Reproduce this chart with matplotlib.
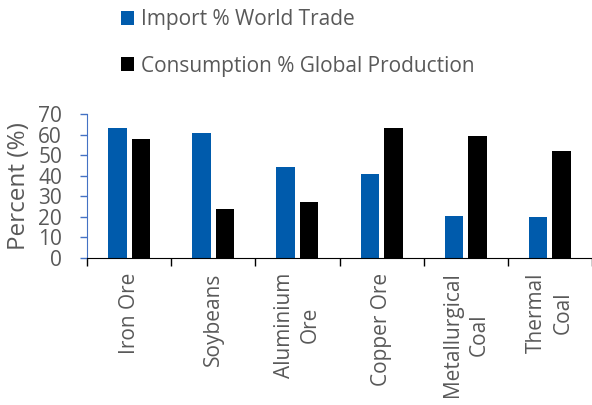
import matplotlib
matplotlib.use("Agg")
import matplotlib.pyplot as plt
import numpy as np

categories = ["Iron Ore", "Soybeans", "Aluminium\nOre", "Copper Ore", "Metallurgical\nCoal", "Thermal\nCoal"]
import_share = [63, 61, 44, 41, 20.5, 20]
consumption_share = [58, 24, 27, 63, 59.5, 52]
series_names = ["Import % World Trade", "Consumption % Global Production"]
yticks = [0, 10, 20, 30, 40, 50, 60, 70]

plt.rcParams['font.family'] = ['Open Sans', 'DejaVu Sans']
text_gray = "#595959"
blue = "#005BAC"

fig = plt.figure(figsize=(5.92, 4.05), dpi=100)
ax = fig.add_axes([0.147, 0.363, 0.853, 0.3555])

x = np.arange(len(categories))
w = 0.22
off = 0.14
ax.bar(x - off, import_share, w, color=blue, label=series_names[0])
ax.bar(x + off, consumption_share, w, color="black", label=series_names[1])

ax.set_xlim(-0.5, len(categories) - 0.5)
ax.set_ylim(0, 70)
ax.set_yticks(yticks)
ax.tick_params(axis='y', colors="#4472C4", labelcolor=text_gray, labelsize=15, length=5, width=1, pad=13)
ax.spines['left'].set_color("#4472C4")
ax.spines['top'].set_visible(False)
ax.spines['right'].set_visible(False)
ax.spines['bottom'].set_color("black")

ax.set_xticks(np.arange(len(categories) + 1) - 0.5)
ax.set_xticklabels([])
ax.tick_params(axis='x', length=6, width=1, colors="black", direction='out')
for i, c in enumerate(categories):
    ax.text(i, -0.1, c, transform=ax.get_xaxis_transform(), rotation=90,
            ha='center', va='top', fontsize=15, color=text_gray, multialignment='center',
            linespacing=1.35)

fig.text(19 / 592, 1 - 186 / 405, "Percent (%)", rotation=90, ha='center', va='center',
         fontsize=17.5, color=text_gray)

handles, labels = ax.get_legend_handles_labels()
fig.legend([handles[0]], [labels[0]], loc='center left', bbox_to_anchor=(0.205, 0.951),
           frameon=False, fontsize=15, labelcolor=text_gray, handlelength=0.62,
           handleheight=0.62, handletextpad=0.3, borderaxespad=0, borderpad=0)
fig.legend([handles[1]], [labels[1]], loc='center left', bbox_to_anchor=(0.205, 0.837),
           frameon=False, fontsize=15, labelcolor=text_gray, handlelength=0.62,
           handleheight=0.62, handletextpad=0.3, borderaxespad=0, borderpad=0)

fig.savefig("out.png", dpi=100)
